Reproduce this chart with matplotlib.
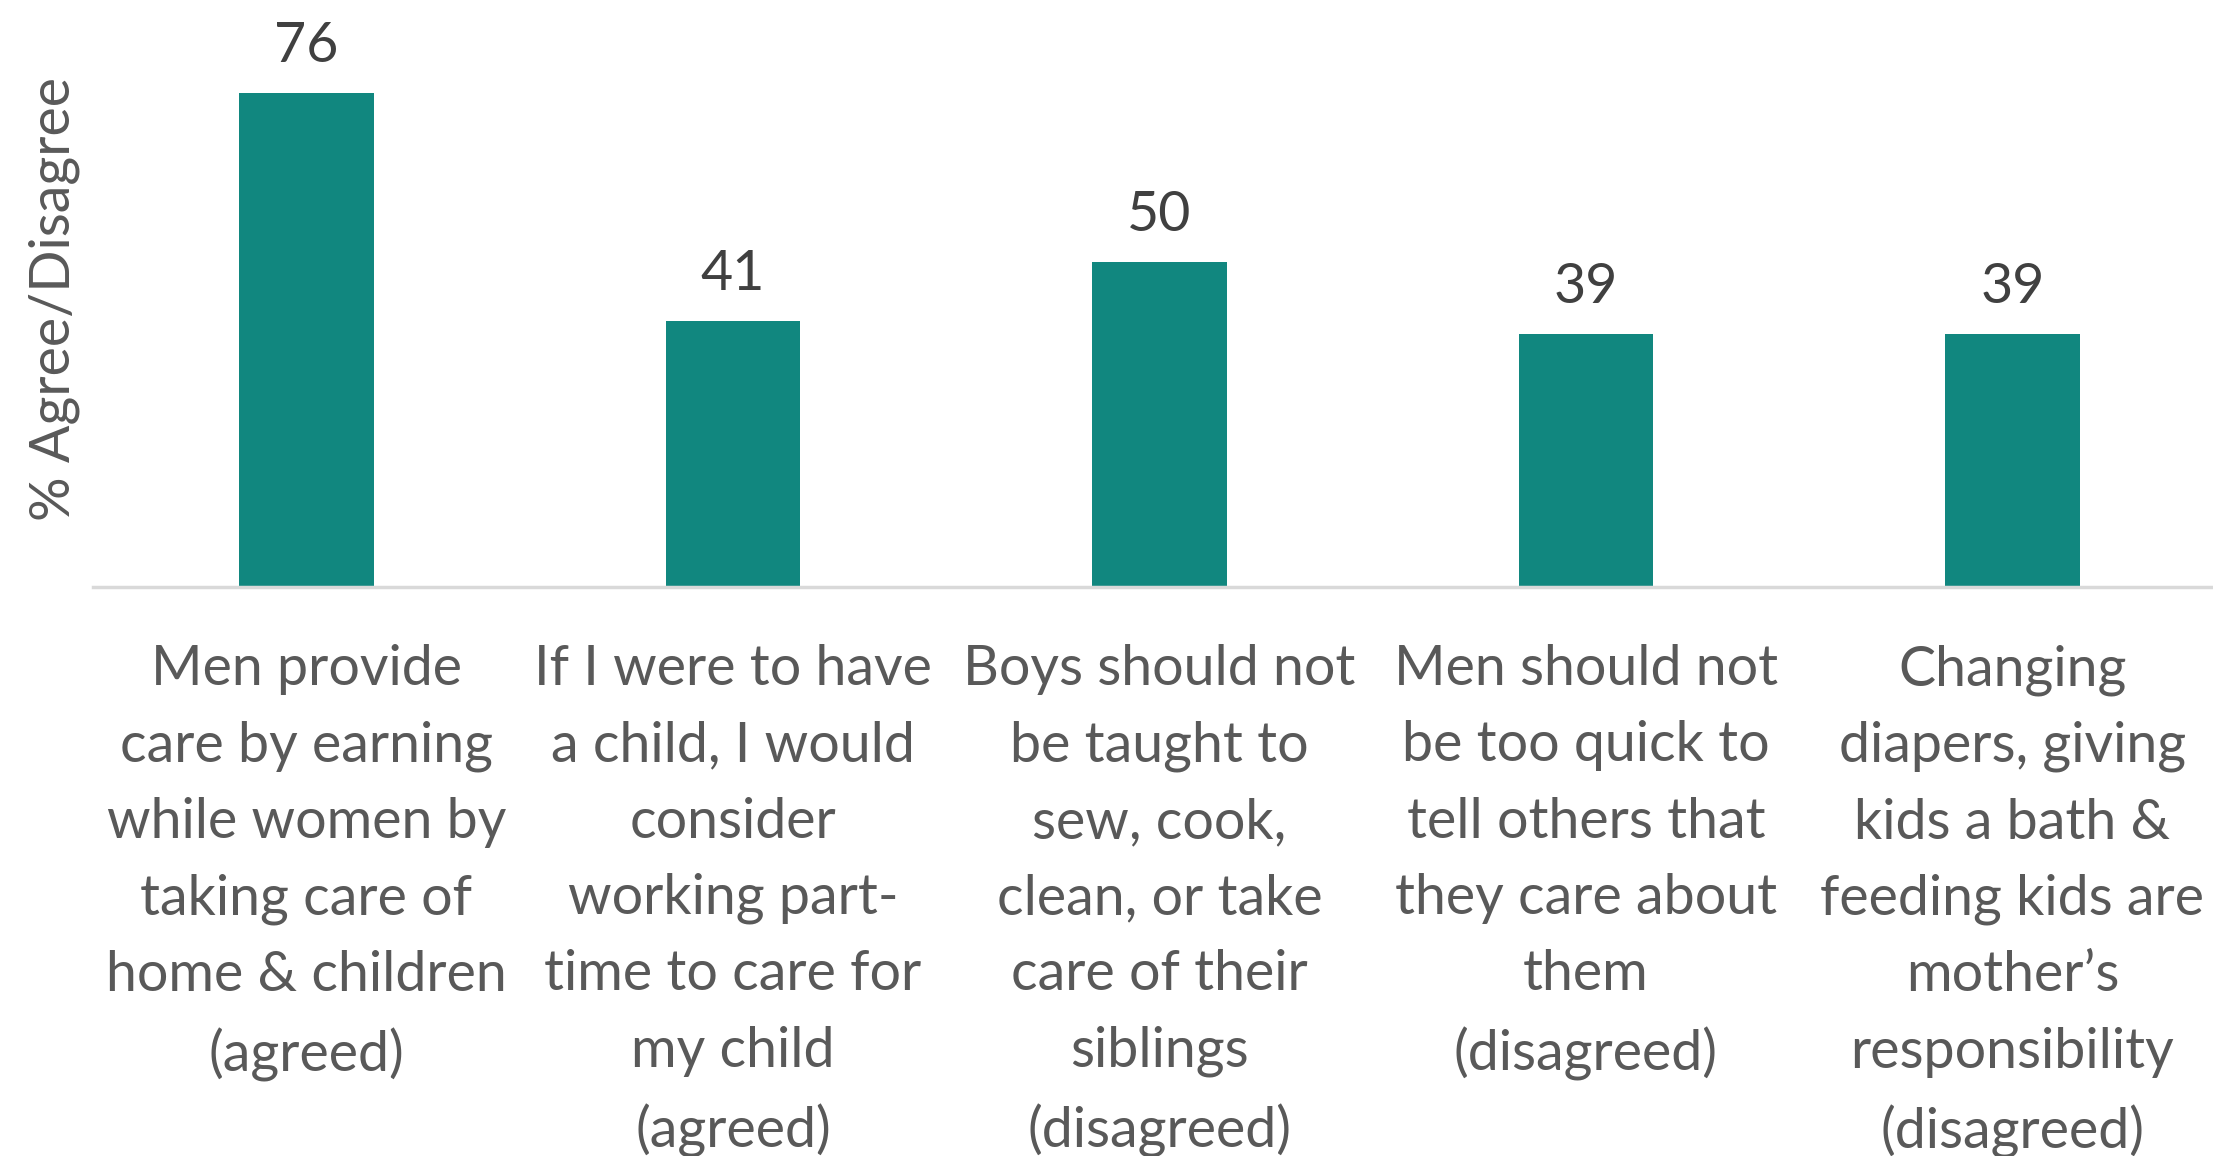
import numpy as np
import matplotlib.pyplot as plt

# survey statements and share who agreed / disagreed
statements = [
    "Men provide\ncare by earning\nwhile women by\ntaking care of\nhome & children\n(agreed)",
    "If I were to have\na child, I would\nconsider\nworking part-\ntime to care for\nmy child\n(agreed)",
    "Boys should not\nbe taught to\nsew, cook,\nclean, or take\ncare of their\nsiblings\n(disagreed)",
    "Men should not\nbe too quick to\ntell others that\nthey care about\nthem\n(disagreed)",
    "Changing\ndiapers, giving\nkids a bath &\nfeeding kids are\nmother’s\nresponsibility\n(disagreed)",
]
percent = [76, 41, 50, 39, 39]

bar_color = "#11877F"
text_color = "#595959"

plt.rcParams["font.family"] = ["Lato", "DejaVu Sans"]

fig = plt.figure(figsize=(22.13, 11.56), dpi=100)
ax = fig.add_axes([0.0421, 0.4921, 0.9636, 0.5079])

x = np.arange(len(percent))
bars = ax.bar(x, percent, width=0.315, color=bar_color)

for b, v in zip(bars, percent):
    ax.annotate(str(v), (b.get_x() + b.get_width() / 2, v),
                xytext=(0, 15), textcoords="offset points",
                ha="center", va="bottom", fontsize=40, color="#404040")

ax.set_xlim(-0.5, 4.5)
ax.set_ylim(0, 90.3)
ax.set_xticks(x)
ax.set_xticklabels(statements, fontsize=40, color=text_color, linespacing=1.615)
ax.tick_params(axis="x", length=0, pad=41)
ax.set_yticks([])

for side in ["top", "right", "left"]:
    ax.spines[side].set_visible(False)
ax.spines["bottom"].set_color("#D9D9D9")
ax.spines["bottom"].set_linewidth(2.5)

ax.set_ylabel("% Agree/Disagree", fontsize=40, color=text_color)
ax.yaxis.set_label_coords(-0.006, 0.49)

fig.savefig("out.png", dpi=100)
